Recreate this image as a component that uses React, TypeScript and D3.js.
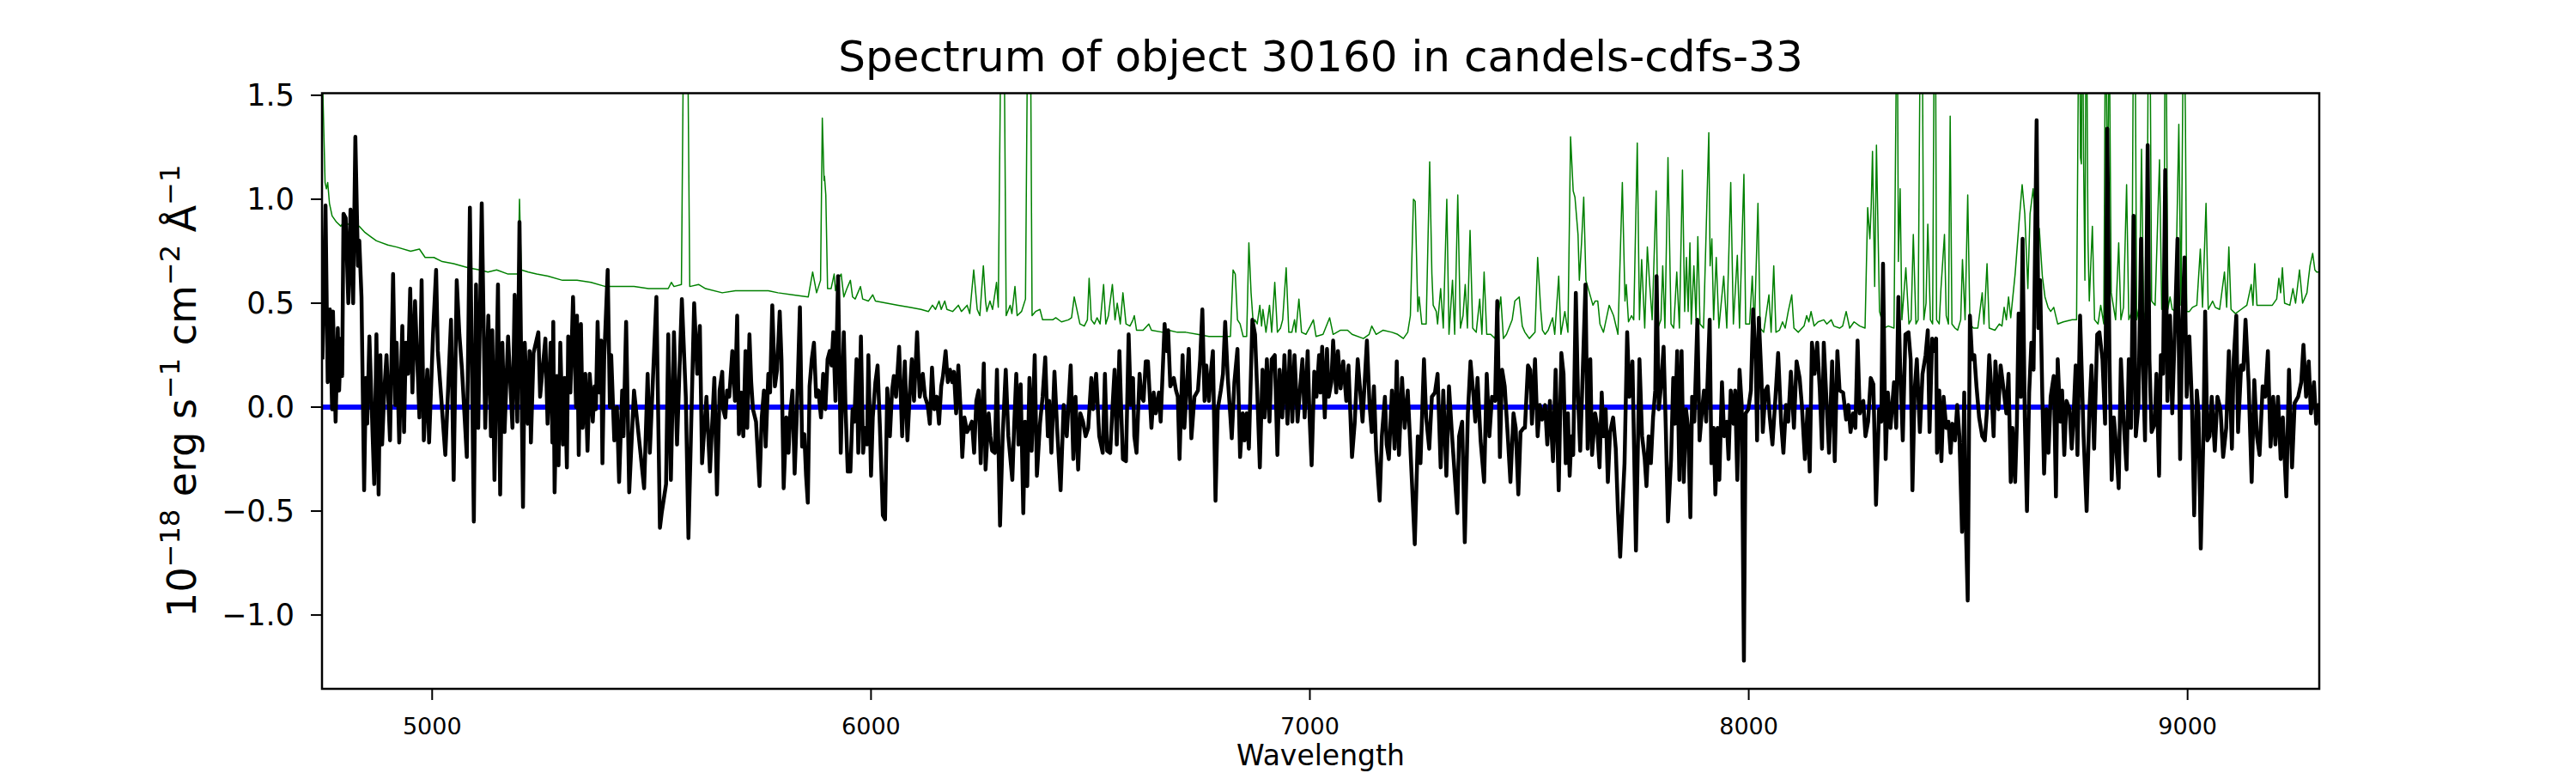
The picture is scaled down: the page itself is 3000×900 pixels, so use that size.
import * as d3 from "d3";

// flux (black), [wavelength, flux]
const fluxA: [number, number][] = [
  [4750, 0.23], [4757, 0.97], [4762, 0.12], [4767, 0.47], [4772, -0.01], [4774, 0.46], [4780, -0.07], [4785, 0.38],
  [4788, 0.08], [4792, 0.33], [4795, 0.15], [4798, 0.93], [4803, 0.91], [4809, 0.5], [4814, 0.95], [4820, 0.5],
  [4825, 1.3], [4831, 0.68], [4834, 0.8], [4839, 0.53], [4845, -0.4], [4849, 0.14], [4852, -0.08], [4857, 0.34],
  [4868, -0.37], [4873, 0.35], [4878, -0.42], [4882, 0.25], [4886, -0.18], [4891, 0.08], [4896, 0.25], [4904, -0.16],
  [4911, 0.64], [4916, 0.01], [4919, 0.31], [4925, -0.17], [4932, 0.39], [4936, -0.12], [4940, 0.31], [4945, 0.16],
  [4950, 0.57], [4955, 0.07], [4961, 0.51], [4971, -0.05], [4976, 0.61], [4981, -0.16], [4989, 0.18], [4993, -0.17],
  [5002, 0.35], [5009, 0.66], [5013, 0.27], [5030, -0.23], [5043, 0.42], [5049, -0.35], [5056, 0.61], [5062, 0.35],
  [5068, 0.18], [5079, -0.24], [5086, 0.96], [5095, -0.55], [5100, 0.59], [5105, -0.1], [5113, 0.98], [5121, -0.1],
  [5128, 0.44], [5134, -0.14], [5137, 0.37], [5142, -0.35], [5150, 0.59], [5155, -0.42], [5160, 0.31], [5165, -0.12],
  [5173, 0.34], [5183, -0.1], [5188, 0.54], [5194, -0.07], [5199, 0.89], [5207, -0.48], [5211, 0.31], [5218, -0.08],
  [5222, 0.27], [5225, -0.17], [5231, 0.26], [5242, 0.36], [5246, 0.05], [5258, 0.33], [5263, -0.08], [5270, 0.31],
  [5274, -0.17], [5276, 0.41], [5279, -0.41], [5284, 0.15], [5288, -0.28], [5292, 0.31], [5298, -0.18], [5302, 0.14],
  [5307, -0.29], [5310, 0.34], [5315, 0.07], [5321, 0.53], [5328, 0.0], [5330, 0.44], [5334, -0.23], [5339, 0.4],
  [5343, -0.1], [5349, 0.16], [5354, -0.21], [5359, 0.16], [5366, -0.07], [5370, 0.1], [5373, -0.01], [5377, 0.41],
  [5381, 0.07], [5385, 0.32], [5388, -0.27], [5392, 0.23], [5400, 0.66], [5405, 0.0], [5408, 0.25], [5415, -0.16],
  [5421, 0.0], [5426, -0.36], [5433, 0.08], [5436, -0.14], [5442, 0.41], [5449, -0.41], [5460, 0.08], [5483, -0.39],
  [5491, 0.16], [5496, -0.22], [5511, 0.53], [5519, -0.58], [5523, -0.51], [5533, -0.37], [5538, 0.35], [5544, -0.35],
  [5551, 0.36], [5558, -0.18], [5569, 0.52], [5578, 0.05], [5584, -0.63], [5597, 0.5], [5604, 0.16], [5610, 0.39],
  [5615, -0.27], [5625, 0.05], [5633, -0.31], [5643, 0.14], [5649, -0.42], [5655, 0.08], [5661, 0.17],
];

const fluxB: [number, number][] = [
  [5663, -0.01], [5668, -0.05], [5672, 0.08], [5677, 0.05], [5684, 0.27], [5690, 0.03], [5695, 0.44], [5699, -0.13],
  [5704, 0.07], [5709, -0.14], [5714, 0.27], [5718, -0.1], [5723, 0.35], [5727, 0.12], [5731, -0.01], [5738, -0.07],
  [5746, -0.38], [5751, -0.05], [5756, 0.08], [5760, -0.19], [5766, 0.16], [5770, 0.07], [5775, 0.49], [5781, 0.1],
  [5786, 0.18], [5792, 0.46], [5796, 0.23], [5801, -0.39], [5807, -0.05], [5812, -0.22], [5816, -0.03], [5821, 0.08],
  [5826, -0.32], [5831, -0.03], [5838, 0.48], [5843, -0.19], [5848, -0.13], [5852, -0.33], [5856, -0.46], [5860, 0.1],
  [5865, 0.23], [5870, 0.31], [5875, 0.05], [5880, 0.08], [5886, -0.05], [5891, 0.16], [5896, -0.01], [5901, 0.23],
  [5906, 0.27], [5910, 0.2], [5914, 0.36], [5919, 0.03], [5925, 0.63], [5931, -0.22], [5935, 0.12], [5938, 0.36],
  [5942, -0.01], [5947, -0.31], [5953, -0.31], [5958, -0.01], [5962, -0.07], [5967, 0.23], [5971, -0.22], [5977, 0.34],
  [5982, -0.22], [5987, -0.1], [5991, -0.18], [5994, 0.25], [6000, -0.33], [6004, -0.05], [6010, 0.12], [6015, 0.2],
  [6020, -0.08], [6027, -0.52], [6032, -0.54], [6037, 0.09], [6043, -0.14], [6048, 0.08], [6052, 0.15], [6057, 0.05],
  [6064, 0.29], [6071, -0.14], [6077, 0.22], [6083, -0.16], [6088, 0.05], [6093, 0.23], [6098, 0.03], [6105, 0.36],
  [6111, 0.05], [6118, 0.16], [6123, 0.05], [6129, 0.01], [6134, -0.08], [6139, 0.19], [6144, -0.01], [6150, 0.05],
  [6155, -0.08], [6160, 0.1], [6164, 0.15], [6170, 0.27], [6175, 0.12], [6180, 0.18], [6185, 0.12], [6189, 0.17],
  [6194, -0.03], [6199, 0.2], [6204, -0.01], [6208, -0.24], [6213, -0.05], [6219, -0.12], [6224, -0.1], [6230, -0.07],
  [6235, -0.22], [6240, 0.03], [6245, 0.08], [6250, -0.27], [6257, 0.21], [6261, -0.3], [6268, -0.03], [6272, -0.14],
  [6276, -0.21], [6282, -0.22], [6287, 0.18], [6294, -0.57], [6300, -0.14], [6307, 0.18], [6313, -0.14], [6322, -0.35],
  [6326, -0.1], [6331, 0.16], [6336, -0.18], [6341, 0.11], [6347, -0.51], [6351, -0.07], [6356, -0.38], [6361, 0.14],
  [6366, -0.21], [6373, 0.25], [6378, -0.33], [6385, -0.08], [6391, 0.05], [6397, 0.24], [6403, -0.14], [6406, 0.03],
  [6411, -0.22], [6418, 0.17], [6424, -0.1], [6432, -0.4], [6439, 0.01], [6446, -0.14], [6455, 0.2], [6461, -0.25],
  [6466, 0.05], [6472, -0.3], [6477, -0.03], [6483, -0.07], [6489, -0.14], [6495, -0.1], [6502, 0.14], [6506, -0.01],
  [6513, 0.16], [6520, -0.14], [6528, -0.22], [6533, 0.16], [6538, -0.21], [6545, -0.22], [6550, -0.01], [6555, 0.18],
  [6560, -0.18], [6566, 0.27], [6570, -0.01], [6574, -0.25],
];

const fluxC: [number, number][] = [
  [6581, -0.26], [6587, 0.35], [6592, 0.01], [6597, 0.14], [6600, -0.14], [6605, -0.22], [6612, 0.16], [6616, 0.05],
  [6621, 0.03], [6626, 0.22], [6631, 0.22], [6639, -0.1], [6644, 0.07], [6649, -0.03], [6656, 0.07], [6660, -0.07],
  [6669, 0.4], [6673, 0.27], [6677, 0.37], [6682, 0.1], [6690, 0.14], [6695, 0.08], [6699, 0.05], [6703, -0.25],
  [6710, 0.25], [6714, -0.1], [6719, 0.08], [6724, 0.28], [6730, -0.15], [6737, 0.05], [6745, 0.08], [6750, 0.23],
  [6755, 0.47], [6760, 0.03], [6764, 0.2], [6770, 0.03], [6775, 0.18], [6779, 0.27], [6785, -0.45], [6790, -0.01],
  [6797, 0.08], [6802, 0.16], [6807, 0.41], [6813, 0.14], [6819, -0.05], [6822, -0.15], [6828, 0.12], [6835, 0.28],
  [6841, -0.24], [6847, -0.03], [6851, -0.16], [6856, -0.03], [6861, -0.2], [6869, 0.42], [6875, 0.35], [6880, 0.08],
  [6886, -0.29], [6892, 0.18], [6897, -0.05], [6902, 0.23], [6908, -0.07], [6913, 0.23], [6920, 0.25], [6926, -0.23],
  [6931, 0.18], [6937, -0.05], [6942, 0.25], [6949, -0.08], [6954, 0.27], [6960, -0.07], [6965, 0.25], [6972, -0.07],
  [6978, 0.1], [6983, 0.23], [6988, -0.05], [6995, 0.27], [6999, -0.03], [7004, -0.28], [7010, 0.17], [7015, 0.05],
  [7021, 0.25], [7024, 0.07], [7028, 0.29], [7034, -0.05], [7039, 0.28], [7043, 0.05], [7049, 0.12], [7053, 0.32],
  [7060, 0.07], [7064, 0.27], [7070, 0.09], [7076, 0.22], [7083, 0.03], [7088, 0.2], [7096, -0.24], [7102, -0.08],
  [7109, 0.23], [7115, 0.07], [7120, -0.07], [7130, 0.32], [7136, 0.01], [7141, -0.12], [7146, 0.1], [7151, -0.21],
  [7159, -0.45], [7164, -0.14], [7171, 0.05], [7175, -0.18], [7180, -0.25], [7187, 0.08], [7193, -0.2], [7198, 0.22],
  [7203, -0.23], [7210, 0.14], [7216, -0.1], [7223, 0.08], [7233, -0.38], [7239, -0.66], [7246, -0.14], [7252, -0.27],
  [7260, 0.23], [7265, -0.05], [7272, -0.2], [7278, 0.05], [7285, 0.07], [7291, 0.16], [7298, -0.29], [7304, 0.08],
  [7311, -0.33], [7317, 0.1], [7324, -0.14], [7336, -0.51], [7340, -0.14], [7347, -0.07], [7353, -0.65], [7360, -0.03],
  [7366, 0.22], [7373, 0.05], [7377, -0.07], [7382, 0.14], [7389, -0.16], [7397, -0.36], [7403, 0.16], [7409, -0.14],
  [7415, 0.05], [7422, 0.03], [7427, 0.51], [7433, -0.24], [7438, 0.18], [7444, 0.1], [7451, -0.14], [7457, -0.36],
  [7464, -0.03], [7469, -0.1], [7475, -0.42], [7480, -0.12], [7487, -0.1],
];

const fluxD: [number, number][] = [
  [7490, -0.1], [7497, 0.2], [7502, 0.18], [7506, -0.08], [7513, 0.23], [7519, -0.14], [7524, 0.01], [7529, -0.06],
  [7536, 0.01], [7541, -0.18], [7547, 0.03], [7554, -0.26], [7560, 0.18], [7567, -0.4], [7573, 0.26], [7578, 0.16],
  [7583, -0.27], [7588, -0.03], [7592, -0.33], [7596, -0.14], [7600, -0.23], [7606, 0.55], [7611, 0.05], [7616, -0.21],
  [7620, 0.05], [7628, 0.59], [7633, -0.2], [7639, 0.23], [7643, -0.23], [7650, -0.03], [7654, -0.08], [7660, -0.29],
  [7665, 0.07], [7669, -0.14], [7674, -0.01], [7679, -0.36], [7684, -0.12], [7691, -0.05], [7697, -0.2], [7702, -0.5],
  [7707, -0.72], [7712, -0.49], [7717, -0.27], [7723, 0.36], [7728, 0.05], [7735, 0.22], [7739, -0.23], [7743, -0.69],
  [7748, -0.12], [7751, 0.23], [7757, -0.14], [7763, -0.25], [7767, -0.38], [7772, -0.14], [7777, -0.27], [7782, -0.05],
  [7787, 0.08], [7790, 0.63], [7795, -0.01], [7800, 0.1], [7806, 0.29], [7811, -0.1], [7816, -0.55], [7823, -0.25],
  [7828, 0.14], [7832, -0.08], [7837, 0.27], [7842, -0.35], [7847, 0.27], [7852, -0.36], [7857, -0.01], [7862, -0.1],
  [7867, -0.53], [7871, 0.05], [7876, -0.07], [7883, 0.42], [7888, -0.16], [7893, -0.03], [7898, 0.08], [7903, -0.07],
  [7911, 0.42], [7915, -0.27], [7920, -0.1], [7924, -0.42], [7929, -0.1], [7933, -0.35], [7939, 0.12], [7944, -0.14],
  [7950, -0.07], [7954, -0.25], [7959, 0.08], [7965, -0.08], [7969, 0.08], [7974, -0.35], [7979, 0.18], [7984, 0.01],
  [7989, -1.22], [7993, -0.03], [7999, -0.01], [8005, 0.08], [8010, 0.47], [8016, 0.23], [8019, -0.16], [8023, 0.43],
  [8029, 0.14], [8032, -0.12], [8038, 0.08], [8043, 0.1], [8048, -0.05], [8054, -0.18], [8061, 0.05], [8067, 0.26],
  [8074, -0.08], [8079, -0.22], [8085, 0.01], [8090, -0.07], [8096, 0.17], [8103, -0.1], [8109, 0.22], [8116, 0.14],
  [8121, 0.01], [8128, -0.25], [8134, -0.01], [8139, -0.31], [8144, 0.31], [8150, 0.16], [8156, 0.31], [8162, 0.08],
  [8167, -0.2], [8171, 0.31], [8178, -0.01], [8183, -0.22], [8190, 0.22], [8196, -0.26], [8202, 0.27], [8207, 0.08],
  [8215, 0.07], [8222, -0.06], [8227, 0.01], [8232, -0.12], [8238, -0.03], [8243, -0.1], [8248, 0.32], [8253, -0.03],
  [8261, 0.03], [8266, -0.14], [8272, -0.07], [8278, 0.14], [8284, 0.11], [8290, -0.47], [8297, -0.01], [8302, -0.07],
  [8306, 0.69], [8312, -0.25], [8317, 0.07], [8323, -0.1], [8331, 0.12], [8336, -0.1], [8341, 0.53], [8345, 0.2],
  [8351, -0.16], [8357, 0.35], [8364, 0.36], [8369, 0.23], [8373, -0.4], [8378, 0.08], [8383, 0.23], [8390, -0.12],
  [8396, 0.16],
];

const fluxE: [number, number][] = [
  [8403, 0.25], [8408, 0.37], [8412, -0.12], [8418, 0.33], [8423, 0.27], [8427, 0.33], [8429, -0.22], [8434, 0.08],
  [8439, -0.26], [8444, 0.05], [8450, -0.1], [8455, -0.07], [8460, -0.22], [8464, -0.08], [8470, -0.16], [8475, 0.01],
  [8480, -0.14], [8486, -0.6], [8491, 0.07], [8494, -0.51], [8499, -0.93], [8504, 0.44], [8509, 0.23], [8514, 0.25],
  [8519, 0.1], [8525, -0.05], [8532, -0.14], [8538, -0.16], [8543, -0.01], [8548, 0.25], [8553, 0.08], [8558, -0.14],
  [8562, 0.22], [8569, -0.01], [8574, 0.2], [8581, 0.08], [8587, -0.03], [8592, 0.16], [8597, -0.36], [8601, -0.1],
  [8607, -0.36], [8611, -0.08], [8615, 0.45], [8620, 0.05], [8624, 0.81], [8629, -0.05], [8634, -0.5], [8639, 0.07],
  [8644, 0.31], [8649, 0.18], [8656, 1.38], [8660, 0.38], [8664, 0.61], [8669, 0.05], [8673, -0.32], [8678, -0.01],
  [8683, -0.22], [8688, 0.05], [8695, 0.15], [8700, -0.43], [8704, 0.23], [8710, -0.07], [8714, 0.08], [8719, -0.23],
  [8724, 0.03], [8731, -0.01], [8736, -0.2], [8740, -0.05], [8745, 0.2], [8749, -0.23], [8755, 0.44], [8763, -0.14],
  [8770, -0.5], [8776, -0.03], [8781, 0.2], [8787, -0.2], [8794, 0.35], [8799, 0.36], [8806, 0.23], [8812, -0.08],
  [8817, 1.34], [8822, 0.23], [8827, -0.35], [8832, -0.05], [8837, -0.18], [8843, -0.39], [8848, 0.23], [8854, -0.06],
  [8861, -0.3], [8866, 0.23], [8871, -0.1], [8877, 0.92], [8882, -0.14], [8888, 0.01], [8894, 0.81], [8898, 0.22],
  [8903, -0.16], [8909, 1.26], [8913, 0.23], [8918, -0.12], [8925, -0.08], [8929, 0.16], [8935, -0.33], [8939, 0.25],
  [8944, 0.16], [8949, 1.14], [8954, 0.03], [8960, 0.44], [8965, -0.03], [8970, 0.31], [8977, 0.81], [8983, -0.25],
  [8988, 0.42], [8993, 0.72], [8998, 0.05], [9004, 0.34], [9010, 0.01], [9015, -0.52], [9021, 0.08], [9025, -0.03],
  [9030, -0.68], [9036, -0.14], [9040, 0.46], [9045, -0.16], [9050, -0.14], [9055, 0.05], [9062, -0.21], [9068, 0.05],
  [9075, -0.01], [9081, -0.24], [9088, -0.1], [9094, 0.27], [9101, -0.2], [9105, 0.23], [9111, 0.44], [9115, -0.12],
  [9122, 0.2], [9127, 0.18], [9132, 0.42], [9139, 0.12], [9146, -0.36], [9152, 0.13], [9158, -0.14], [9164, -0.23],
  [9171, 0.1], [9177, 0.05], [9183, 0.27], [9189, -0.19], [9195, 0.05], [9200, -0.18], [9206, 0.05], [9212, -0.25],
  [9217, -0.05], [9225, -0.43], [9231, 0.18], [9238, -0.29], [9244, 0.02], [9252, 0.05], [9259, 0.12], [9264, 0.3],
  [9270, 0.05], [9276, 0.22], [9281, -0.03], [9288, 0.12], [9293, -0.08], [9298, 0.01], [9300, -0.05],
];

// error / sky (green), [wavelength, value]
const errA: [number, number][] = [
  [4750, 1.6], [4756, 1.08], [4759, 1.05], [4762, 1.08], [4766, 0.98], [4772, 0.92], [4782, 0.89], [4792, 0.87],
  [4801, 0.9], [4808, 0.88], [4834, 0.87], [4847, 0.84], [4860, 0.82], [4873, 0.8], [4899, 0.78], [4919, 0.77],
  [4951, 0.75], [4971, 0.76], [4984, 0.72], [5004, 0.72], [5023, 0.7], [5049, 0.69], [5082, 0.67], [5108, 0.66],
  [5127, 0.65], [5147, 0.66], [5173, 0.64], [5196, 0.64], [5199, 1.0], [5203, 0.66], [5219, 0.65], [5238, 0.64],
  [5264, 0.63], [5297, 0.61], [5330, 0.61], [5362, 0.6], [5395, 0.58], [5460, 0.58], [5493, 0.57], [5538, 0.57],
  [5545, 0.6], [5551, 0.58], [5568, 0.59], [5572, 1.6], [5577, 2.5], [5583, 1.6], [5587, 0.58], [5607, 0.59],
  [5623, 0.57], [5661, 0.55],
];

const errB: [number, number][] = [
  [5691, 0.56], [5723, 0.56], [5766, 0.56], [5788, 0.55], [5821, 0.54], [5857, 0.53], [5867, 0.65], [5876, 0.55],
  [5885, 0.61], [5889, 1.39], [5893, 1.09], [5894, 1.11], [5897, 1.02], [5901, 0.57], [5909, 0.57], [5916, 0.64],
  [5919, 0.56], [5925, 0.62], [5932, 0.64], [5938, 0.53], [5945, 0.57], [5953, 0.61], [5958, 0.53], [5964, 0.52],
  [5976, 0.58], [5981, 0.52], [5994, 0.51], [6004, 0.54], [6010, 0.51], [6036, 0.5], [6062, 0.49], [6088, 0.48],
  [6114, 0.47], [6131, 0.46], [6140, 0.49], [6147, 0.47], [6155, 0.51], [6160, 0.47], [6168, 0.51], [6173, 0.47],
  [6186, 0.46], [6199, 0.49], [6206, 0.46], [6219, 0.49], [6225, 0.45], [6234, 0.66], [6242, 0.47], [6248, 0.44],
  [6256, 0.68], [6261, 0.51], [6264, 0.46], [6271, 0.51], [6277, 0.47], [6286, 0.6], [6290, 0.48], [6295, 1.6],
  [6300, 2.5], [6304, 1.6], [6308, 0.44], [6317, 0.49], [6321, 0.45], [6328, 0.58], [6333, 0.44], [6343, 0.46],
  [6352, 0.52], [6356, 1.6], [6360, 2.2], [6364, 1.6], [6367, 0.44], [6375, 0.46], [6385, 0.47], [6391, 0.42],
  [6414, 0.42], [6421, 0.43], [6434, 0.41], [6450, 0.42], [6457, 0.43], [6463, 0.53], [6470, 0.46], [6476, 0.4],
  [6486, 0.39], [6493, 0.42], [6497, 0.62], [6502, 0.42], [6509, 0.4], [6515, 0.43], [6522, 0.4], [6530, 0.59],
  [6535, 0.4], [6541, 0.44], [6550, 0.59], [6556, 0.42], [6561, 0.5], [6568, 0.4], [6574, 0.55],
];

const errC: [number, number][] = [
  [6581, 0.4], [6590, 0.39], [6597, 0.42], [6600, 0.44], [6605, 0.37], [6620, 0.37], [6633, 0.4], [6639, 0.37],
  [6665, 0.36], [6678, 0.37], [6698, 0.36], [6717, 0.36], [6744, 0.35], [6770, 0.34], [6819, 0.34], [6825, 0.66],
  [6830, 0.64], [6835, 0.42], [6841, 0.4], [6848, 0.34], [6856, 0.34], [6861, 0.79], [6866, 0.55], [6871, 0.4],
  [6875, 0.42], [6880, 0.4], [6886, 0.49], [6890, 0.39], [6893, 0.47], [6900, 0.36], [6908, 0.49], [6913, 0.36],
  [6920, 0.6], [6926, 0.36], [6933, 0.38], [6938, 0.42], [6946, 0.67], [6952, 0.36], [6959, 0.36], [6965, 0.42],
  [6968, 0.36], [6975, 0.52], [6981, 0.36], [6991, 0.35], [7001, 0.39], [7008, 0.42], [7014, 0.34], [7030, 0.35],
  [7045, 0.43], [7053, 0.35], [7070, 0.37], [7086, 0.37], [7096, 0.35], [7122, 0.33], [7135, 0.35], [7141, 0.39],
  [7151, 0.35], [7167, 0.37], [7187, 0.36], [7200, 0.35], [7213, 0.33], [7223, 0.36], [7229, 0.44], [7236, 1.0],
  [7240, 0.99], [7246, 0.46], [7249, 0.53], [7255, 0.4], [7265, 0.4], [7273, 1.18], [7278, 0.64], [7281, 0.49],
  [7288, 0.46], [7291, 0.4], [7298, 0.57], [7304, 0.38], [7312, 1.0], [7317, 0.35], [7325, 0.61], [7330, 0.35],
  [7337, 1.02], [7343, 0.38], [7349, 0.44], [7354, 0.59], [7359, 0.38], [7365, 0.85], [7371, 0.38], [7379, 0.36],
  [7387, 0.52], [7392, 0.35], [7397, 0.65], [7403, 0.35], [7412, 0.35], [7422, 0.33], [7435, 0.53], [7441, 0.33],
  [7448, 0.35], [7461, 0.42], [7467, 0.51], [7477, 0.53], [7484, 0.39], [7490, 0.36],
];

const errD: [number, number][] = [
  [7500, 0.33], [7513, 0.36], [7519, 0.72], [7526, 0.47], [7530, 0.37], [7536, 0.35], [7543, 0.37], [7553, 0.43],
  [7558, 0.35], [7567, 0.63], [7572, 0.35], [7581, 0.46], [7588, 0.36], [7594, 1.3], [7600, 1.04], [7604, 1.01],
  [7611, 0.83], [7614, 0.61], [7619, 0.79], [7624, 1.01], [7629, 0.61], [7637, 0.55], [7645, 0.49], [7650, 0.51],
  [7656, 0.51], [7661, 0.4], [7669, 0.36], [7682, 0.49], [7692, 0.44], [7702, 0.35], [7712, 1.08], [7718, 0.51],
  [7721, 0.59], [7726, 0.41], [7733, 0.44], [7738, 0.42], [7746, 1.27], [7751, 0.42], [7756, 0.71], [7763, 0.38],
  [7769, 0.77], [7774, 0.6], [7780, 0.42], [7789, 1.04], [7793, 0.38], [7800, 0.42], [7804, 0.68], [7809, 0.38],
  [7816, 1.2], [7823, 0.4], [7829, 0.38], [7836, 0.65], [7842, 0.38], [7849, 1.14], [7854, 0.46], [7858, 0.72],
  [7862, 0.46], [7866, 0.79], [7869, 0.4], [7875, 0.68], [7880, 0.42], [7884, 0.82], [7889, 0.4], [7897, 0.38],
  [7909, 1.32], [7912, 0.68], [7916, 0.81], [7920, 0.42], [7926, 0.72], [7932, 0.38], [7943, 0.63], [7950, 0.38],
  [7959, 1.08], [7965, 0.4], [7974, 0.73], [7979, 0.38], [7989, 1.12], [7993, 0.4], [8002, 0.4], [8008, 0.63],
  [8013, 0.38], [8021, 0.98], [8026, 0.38], [8034, 0.36], [8046, 0.54], [8051, 0.36], [8057, 0.68], [8062, 0.36],
  [8070, 0.37], [8077, 0.41], [8083, 0.38], [8090, 0.46], [8098, 0.54], [8103, 0.38], [8113, 0.36], [8126, 0.39],
  [8132, 0.44], [8137, 0.41], [8142, 0.46], [8149, 0.39], [8158, 0.41], [8171, 0.42], [8178, 0.4], [8188, 0.42],
  [8194, 0.39], [8207, 0.38], [8214, 0.39], [8222, 0.46], [8230, 0.38], [8240, 0.41], [8253, 0.39], [8265, 0.38],
  [8271, 0.96], [8276, 0.81], [8279, 0.96], [8282, 1.23], [8287, 0.58], [8291, 1.26], [8298, 0.46], [8308, 0.38],
  [8318, 0.39], [8331, 0.38], [8336, 1.6], [8338, 2.2], [8341, 0.7], [8345, 1.05], [8349, 0.42], [8358, 0.67],
  [8365, 0.4], [8370, 0.42], [8375, 0.83], [8381, 0.4], [8386, 0.42], [8390, 1.6], [8393, 2.2], [8396, 1.6],
  [8399, 0.42],
];

const errE: [number, number][] = [
  [8404, 0.5], [8408, 0.88], [8414, 0.42], [8419, 0.4], [8422, 1.6], [8424, 2.2], [8426, 1.6], [8428, 0.42],
  [8434, 0.4], [8438, 0.57], [8446, 0.83], [8450, 0.44], [8455, 0.4], [8459, 1.4], [8463, 0.4], [8470, 0.38],
  [8476, 0.37], [8483, 0.42], [8487, 0.71], [8493, 0.42], [8499, 1.02], [8504, 0.4], [8512, 0.38], [8522, 0.38],
  [8532, 0.55], [8536, 0.4], [8543, 0.69], [8548, 0.38], [8561, 0.37], [8571, 0.4], [8577, 0.39], [8582, 0.48],
  [8587, 0.42], [8592, 0.53], [8597, 0.43], [8607, 0.64], [8616, 0.89], [8623, 1.07], [8629, 0.93], [8636, 0.57],
  [8641, 0.93], [8648, 1.05], [8656, 0.83], [8662, 0.86], [8669, 0.63], [8675, 0.53], [8682, 0.48], [8688, 0.46],
  [8695, 0.48], [8704, 0.4], [8717, 0.41], [8737, 0.42], [8747, 0.42], [8751, 1.6], [8753, 2.2], [8756, 1.2],
  [8758, 1.17], [8760, 2.2], [8763, 1.2], [8766, 0.61], [8769, 2.2], [8773, 0.8], [8776, 0.51], [8783, 0.87],
  [8788, 0.42], [8796, 0.4], [8802, 0.49], [8809, 0.4], [8813, 2.0], [8818, 0.88], [8821, 2.0], [8826, 0.55],
  [8836, 0.42], [8843, 0.79], [8848, 0.42], [8854, 0.48], [8861, 1.07], [8866, 0.42], [8873, 0.46], [8877, 2.0],
  [8881, 1.6], [8884, 0.42], [8890, 0.49], [8895, 1.24], [8900, 0.42], [8907, 0.49], [8911, 2.0], [8915, 1.6],
  [8918, 0.51], [8926, 0.49], [8936, 1.19], [8941, 0.47], [8946, 0.49], [8949, 2.0], [8952, 1.5], [8955, 0.47],
  [8960, 0.53], [8965, 0.47], [8972, 0.46], [8980, 1.36], [8985, 0.49], [8991, 2.0], [8995, 1.4], [8998, 0.46],
  [9004, 0.46], [9011, 0.48], [9021, 0.49], [9029, 0.76], [9034, 0.48], [9042, 0.98], [9047, 0.47], [9057, 0.51],
  [9063, 0.48], [9073, 0.47], [9084, 0.65], [9089, 0.48], [9094, 0.77], [9099, 0.47], [9109, 0.45], [9122, 0.47],
  [9135, 0.49], [9145, 0.59], [9149, 0.49], [9153, 0.69], [9158, 0.49], [9167, 0.49], [9180, 0.49], [9193, 0.49],
  [9203, 0.52], [9208, 0.62], [9212, 0.55], [9216, 0.67], [9221, 0.5], [9233, 0.49], [9240, 0.57], [9246, 0.5],
  [9255, 0.66], [9262, 0.5], [9272, 0.55], [9275, 0.61], [9279, 0.68], [9285, 0.74], [9290, 0.66], [9294, 0.65],
  [9298, 0.65],
];

// model (blue)
const modelLine: [number, number][] = [[4749, 0], [9300, 0]];

const xTicks = [5000, 6000, 7000, 8000, 9000];
const yTicks = [-1.0, -0.5, 0.0, 0.5, 1.0, 1.5];
const xDomain = [4749, 9300];
const yDomain = [-1.355, 1.51];

const title = "Spectrum of object 30160 in candels-cdfs-33";
const xLabel = "Wavelength";

const W = 3000;
const H = 900;
const left = 375;
const right = 2701;
const top = 108.5;
const bottom = 802;
const FONT = "DejaVu Sans, sans-serif";

export default function App() {
  const x = d3.scaleLinear().domain(xDomain).range([left, right]);
  const y = d3.scaleLinear().domain(yDomain).range([bottom, top]);
  const line = d3
    .line<[number, number]>()
    .x((d) => x(d[0]))
    .y((d) => y(d[1]));

  const flux = [...fluxA, ...fluxB, ...fluxC, ...fluxD, ...fluxE];
  const err = [...errA, ...errB, ...errC, ...errD, ...errE];

  const fmtY = (v: number) => d3.format(".1f")(v).replace("-", "\u2212");
  const yMid = (top + bottom) / 2;

  return (
    <svg
      width={W}
      height={H}
      style={{ position: "absolute", left: 0, top: 0, background: "#fff" }}
      fontFamily={FONT}
    >
      <defs>
        <clipPath id="plot">
          <rect x={left} y={top} width={right - left} height={bottom - top} />
        </clipPath>
      </defs>
      <rect width={W} height={H} fill="#fff" />

      <g clipPath="url(#plot)" fill="none" strokeLinejoin="round">
        <path d={line(modelLine) ?? ""} stroke="#0000ff" strokeWidth={6} />
        <path d={line(err) ?? ""} stroke="#008000" strokeWidth={1.5} />
        <path d={line(flux) ?? ""} stroke="#000" strokeWidth={4.5} />
      </g>

      <rect
        x={left}
        y={top}
        width={right - left}
        height={bottom - top}
        fill="none"
        stroke="#000"
        strokeWidth={2.5}
      />

      {xTicks.map((t) => (
        <g key={t} transform={`translate(${x(t)},0)`}>
          <line y1={bottom} y2={bottom + 13} stroke="#000" strokeWidth={2} />
          <text y={855} textAnchor="middle" fontSize={27}>
            {t}
          </text>
        </g>
      ))}

      {yTicks.map((t) => (
        <g key={t} transform={`translate(0,${y(t)})`}>
          <line x1={left - 13} x2={left} stroke="#000" strokeWidth={2} />
          <text x={343} dy={12} textAnchor="end" fontSize={35}>
            {fmtY(t)}
          </text>
        </g>
      ))}

      <text x={(left + right) / 2} y={83} textAnchor="middle" fontSize={50}>
        {title}
      </text>

      <text x={(left + right) / 2} y={891} textAnchor="middle" fontSize={33}>
        {xLabel}
      </text>

      <text
        transform={`translate(228,${yMid}) rotate(-90)`}
        textAnchor="middle"
        fontSize={46}
      >
        10
        <tspan fontSize={32} dy={-19}>
          {"\u221218"}
        </tspan>
        <tspan dy={19}> erg s</tspan>
        <tspan fontSize={32} dy={-19}>
          {"\u22121"}
        </tspan>
        <tspan dy={19}> cm</tspan>
        <tspan fontSize={32} dy={-19}>
          {"\u22122"}
        </tspan>
        <tspan dy={19}> Å</tspan>
        <tspan fontSize={32} dy={-19}>
          {"\u22121"}
        </tspan>
      </text>
    </svg>
  );
}
